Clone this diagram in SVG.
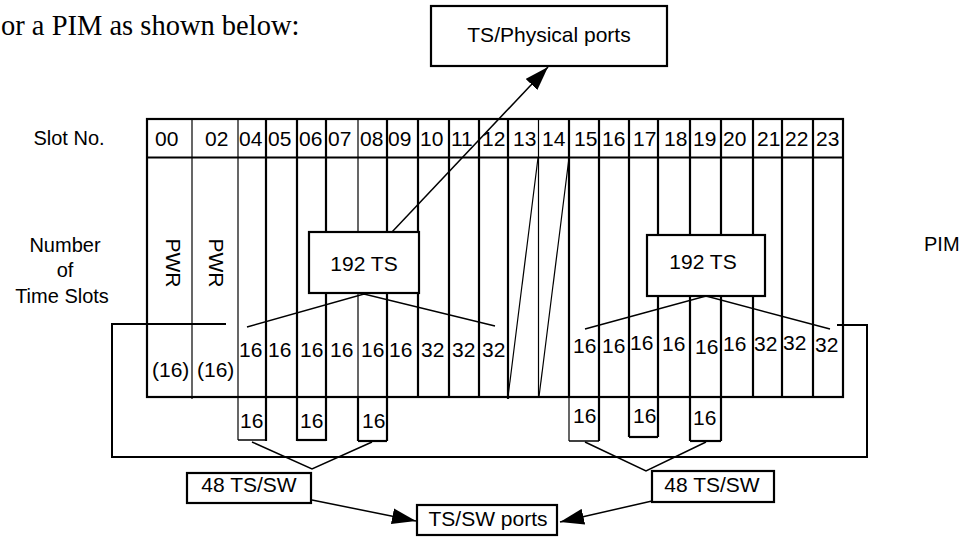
<svg xmlns="http://www.w3.org/2000/svg" width="971" height="538" viewBox="0 0 971 538">
<style>
text{font-family:"Liberation Sans",Arial,sans-serif;font-size:21px;fill:#000}
.serif{font-family:"Liberation Serif","Times New Roman",serif;font-size:28.5px}
.lbl{font-size:20px}
.thk{stroke:#000;stroke-width:2.2;fill:none}
.thn{stroke:#000;stroke-width:1.2;fill:none}
.box{stroke:#000;stroke-width:2.2;fill:#fff}
.ln{stroke:#000;stroke-width:1.5;fill:none}
</style>
<defs>
<marker id="ah" viewBox="0 0 24 16" refX="24" refY="8" markerWidth="24" markerHeight="16" markerUnits="userSpaceOnUse" orient="auto">
<path d="M0,0 L24,8 L0,16 z" fill="#000"/>
</marker>
</defs>
<rect width="971" height="538" fill="#fff"/>
<text class="serif" x="1" y="35">or a PIM as shown below:</text>
<text class="lbl" x="69" y="145" text-anchor="middle">Slot No.</text>
<text class="lbl" x="65" y="252" text-anchor="middle">Number</text>
<text class="lbl" x="65" y="277" text-anchor="middle">of</text>
<text class="lbl" x="62" y="303" text-anchor="middle">Time Slots</text>
<text class="lbl" x="924" y="251">PIM</text>

<g id="grid">
<rect class="thk" x="147" y="119" width="696" height="278"/>
<line class="thk" x1="147" y1="157.5" x2="843" y2="157.5"/>
<g class="thn">
<line x1="192" y1="119" x2="192" y2="399"/>
<line x1="238" y1="119" x2="238" y2="440"/>
<line x1="358" y1="119" x2="358" y2="397"/>
<line x1="538.5" y1="119" x2="538.5" y2="397"/>
<line x1="508" y1="397" x2="538" y2="158"/>
<line x1="539" y1="397" x2="569" y2="158"/>
<line x1="569" y1="397" x2="569" y2="441"/>
</g>
<g class="thk">
<line x1="266" y1="119" x2="266" y2="441"/>
<line x1="297" y1="119" x2="297" y2="441"/>
<line x1="326" y1="119" x2="326" y2="441"/>
<line x1="358" y1="397" x2="358" y2="441"/>
<line x1="387" y1="119" x2="387" y2="441"/>
<line x1="418" y1="119" x2="418" y2="397"/>
<line x1="449" y1="119" x2="449" y2="397"/>
<line x1="479" y1="119" x2="479" y2="397"/>
<line x1="508" y1="119" x2="508" y2="399"/>
<line x1="569" y1="119" x2="569" y2="397"/>
<line x1="599" y1="119" x2="599" y2="441"/>
<line x1="629" y1="119" x2="629" y2="437"/>
<line x1="658" y1="119" x2="658" y2="437"/>
<line x1="690" y1="119" x2="690" y2="441"/>
<line x1="721" y1="119" x2="721" y2="441"/>
<line x1="753" y1="119" x2="753" y2="397"/>
<line x1="782" y1="119" x2="782" y2="397"/>
<line x1="813" y1="119" x2="813" y2="397"/>
</g>
<g class="ln">
<line x1="238" y1="440" x2="266" y2="440"/>
<line x1="569" y1="441" x2="599" y2="441"/>
</g>
<g class="thk">
<line x1="297" y1="440" x2="326" y2="440"/>
<line x1="358" y1="441" x2="387" y2="441"/>
<line x1="629" y1="437" x2="658" y2="437"/>
<line x1="690" y1="441" x2="721" y2="441"/>
</g>
</g>

<g id="slot-numbers">
<text x="155" y="146">00</text>
<text x="205" y="146">02</text>
<text x="239" y="146">04</text>
<text x="268" y="146">05</text>
<text x="299" y="146">06</text>
<text x="328" y="146">07</text>
<text x="360" y="146">08</text>
<text x="388" y="146">09</text>
<text x="420" y="146">10</text>
<text x="451" y="146">11</text>
<text x="482" y="146">12</text>
<text x="513" y="146">13</text>
<text x="542" y="146">14</text>
<text x="574" y="146">15</text>
<text x="602" y="146">16</text>
<text x="633" y="146">17</text>
<text x="664" y="146">18</text>
<text x="693" y="146">19</text>
<text x="723" y="146">20</text>
<text x="757" y="146">21</text>
<text x="785" y="146">22</text>
<text x="816" y="146">23</text>
</g>

<g id="pwr">
<text x="173" y="263" text-anchor="middle" dominant-baseline="central" transform="rotate(90 173 263)">PWR</text>
<text x="216" y="263" text-anchor="middle" dominant-baseline="central" transform="rotate(90 216 263)">PWR</text>
<text x="152" y="377">(16)</text>
<text x="197" y="377">(16)</text>
</g>

<g id="ts-counts-left">
<text x="239" y="357">16</text>
<text x="268" y="357">16</text>
<text x="300" y="357">16</text>
<text x="330" y="357">16</text>
<text x="361" y="357">16</text>
<text x="389" y="357">16</text>
<text x="421" y="357">32</text>
<text x="452" y="357">32</text>
<text x="482" y="357">32</text>
</g>
<g id="ts-counts-right">
<text x="573" y="353">16</text>
<text x="602" y="353">16</text>
<text x="630" y="350">16</text>
<text x="662" y="351">16</text>
<text x="695" y="354">16</text>
<text x="723" y="351">16</text>
<text x="754" y="351">32</text>
<text x="783" y="350">32</text>
<text x="815" y="352">32</text>
</g>
<g id="sw-slots">
<text x="240" y="428">16</text>
<text x="300" y="428">16</text>
<text x="362" y="428">16</text>
<text x="573" y="423">16</text>
<text x="633" y="423">16</text>
<text x="693" y="425">16</text>
</g>

<g id="connectors">
<polyline class="ln" points="226,324 112,324 112,457 867,457 867,325 837,325" style="stroke-width:2"/>
<polyline class="ln" points="247,327 364,294 495,326"/>
<polyline class="ln" points="585,329 706,296 830,329"/>
<polyline class="ln" points="252,442 312,469 372,442"/>
<polyline class="ln" points="585,442 646,471 706,442"/>
<line class="ln" x1="392" y1="232" x2="548" y2="67" marker-end="url(#ah)"/>
<line class="ln" x1="312" y1="500" x2="416" y2="521" marker-end="url(#ah)"/>
<line class="ln" x1="652" y1="501" x2="560" y2="522" marker-end="url(#ah)"/>
</g>

<g id="ts192-left">
<rect class="box" x="309" y="232" width="110" height="61"/>
<text x="364" y="271" text-anchor="middle">192 TS</text>
</g>
<g id="ts192-right">
<rect class="box" x="647" y="235" width="118" height="61"/>
<text x="703" y="269" text-anchor="middle">192 TS</text>
</g>
<g id="ts-physical">
<rect class="box" x="431" y="6" width="236" height="60"/>
<text x="549" y="42" text-anchor="middle">TS/Physical ports</text>
</g>
<g id="sw48-left">
<rect class="box" x="187" y="473" width="124" height="30"/>
<text x="249" y="492" text-anchor="middle">48 TS/SW</text>
</g>
<g id="sw48-right">
<rect class="box" x="652" y="471" width="122" height="31"/>
<text x="712" y="492" text-anchor="middle">48 TS/SW</text>
</g>
<g id="tssw-ports">
<rect class="box" x="417" y="505" width="140" height="30"/>
<text x="488" y="526" text-anchor="middle">TS/SW ports</text>
</g>
</svg>
